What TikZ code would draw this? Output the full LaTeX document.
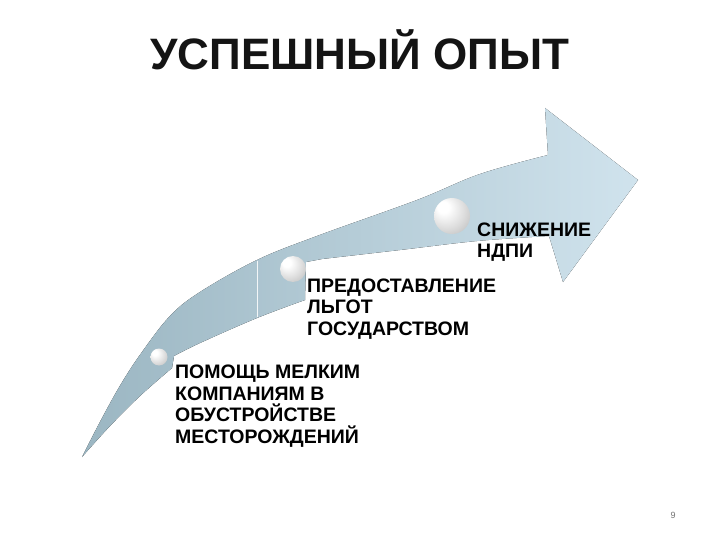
\documentclass[tikz,border=0pt]{standalone}
\usepackage{fontspec}
\setmainfont{Liberation Sans}
\definecolor{arrowL}{RGB}{155,182,194}
\definecolor{arrowR}{RGB}{208,227,237}
\definecolor{titlecol}{RGB}{20,20,20}
\pgfdeclareradialshading{sphereshade}{\pgfqpoint{-14bp}{14bp}}{color(0bp)=(white); color(8bp)=(white); color(26bp)=(black!14); color(40bp)=(black!26); color(60bp)=(black!30)}
\tikzset{
  sphere/.style={circle, inner sep=0pt, shading=sphereshade},
  label text/.style={anchor=base west, align=left, inner sep=0pt, text=black,
    font=\fontsize{19.5}{21.5}\selectfont\bfseries},
}
\begin{document}
\begin{tikzpicture}[x=1pt,y=-1pt]
\useasboundingbox (0,0) rectangle (720,540);
% title
\node[anchor=base, inner sep=0pt, text=titlecol, font=\fontsize{44}{48}\selectfont\bfseries] (title) at (360,70) {УСПЕШНЫЙ ОПЫТ};
% arrow
\fill[left color=arrowL, right color=arrowR]
  plot[smooth, tension=0.6] coordinates {(82,457) (101,420) (121,384) (142,352) (170,316) (200,292) (257,260) (317,236) (417,200) (480,174) (548,155)}
  -- (545,108) -- (638,180) -- (563,282) -- (549,236)
  -- plot[smooth, tension=0.6] coordinates {(549,236) (477,241) (400,250) (322,259)}
  -- (306,262) -- (305,300)
  -- plot[smooth, tension=0.6] coordinates {(305,300) (257,318) (200,343) (174,356)}
  -- (172,368)
  -- plot[smooth, tension=0.6] coordinates {(172,368) (140,396) (110,426) (82,457)}
  -- cycle;
\coordinate (sepT) at (257,261);
\coordinate (sepB) at (257,317);
\draw[white, line width=0.9pt, opacity=0.85] (sepT) -- (sepB);
% spheres
\node[sphere, minimum size=17pt] (s1) at (159,357) {};
\node[sphere, minimum size=26pt] (s2) at (293,269) {};
\node[sphere, minimum size=36pt] (s3) at (452,216) {};
% texts (anchored at the baseline of the last line)
\node[label text] (t1) at (175,443) {ПОМОЩЬ МЕЛКИМ\\КОМПАНИЯМ В\\ОБУСТРОЙСТВЕ\\МЕСТОРОЖДЕНИЙ};
\node[label text] (t2) at (307,335) {ПРЕДОСТАВЛЕНИЕ\\ЛЬГОТ\\ГОСУДАРСТВОМ};
\node[label text] (t3) at (477,258) {СНИЖЕНИЕ\\НДПИ};
% page number
\node[anchor=base, inner sep=0pt, text=black!55, font=\fontsize{9}{10}\selectfont] (pg) at (673,518) {9};
\end{tikzpicture}
\end{document}
